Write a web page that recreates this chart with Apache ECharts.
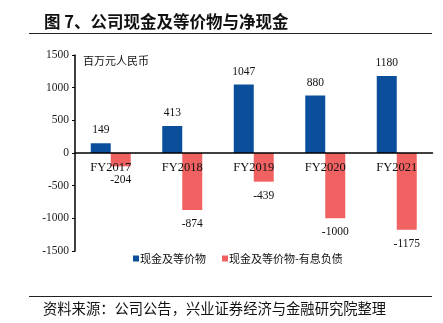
<!DOCTYPE html>
<html><head><meta charset="utf-8">
<script src="https://cdn.jsdelivr.net/npm/echarts@6/dist/echarts.min.js"></script>
<style>html,body{margin:0;padding:0;background:#fff}#c{width:443px;height:323px}</style>
</head><body><div id="c"></div>
<script>
var categories = ['FY2017','FY2018','FY2019','FY2020','FY2021'];
var cashValues = [149, 413, 1047, 880, 1180];
var netCashValues = [-204, -874, -439, -1000, -1175];
var seriesNames = ['现金及等价物', '现金及等价物-有息负债'];
var yTicks = [-1500, -1000, -500, 0, 500, 1000, 1500];
var titleText = '图 7、公司现金及等价物与净现金';
var unitText = '百万元人民币';
var sourceText = '资料来源：公司公告，兴业证券经济与金融研究院整理';

var serif = '"Liberation Serif","Times New Roman",serif';
var cjk = '"Noto Sans CJK SC",sans-serif';
var gridTop = 55, gridBottom = 72, chartH = 323;
var plotH = chartH - gridTop - gridBottom;
var zeroFromBottom = plotH * (0 - yTicks[0]) / (yTicks[yTicks.length-1] - yTicks[0]);
var chart = echarts.init(document.getElementById('c'), null, {renderer:'canvas'});
chart.setOption({
  animation: false,
  backgroundColor: '#fff',
  title: [
    {text: titleText, left: 39, top: 8, textStyle: {fontFamily: cjk, fontSize: 16.5, fontWeight: 'bold', color: '#111'}},
    {text: unitText, left: 78, top: 50, textStyle: {fontFamily: cjk, fontSize: 11, fontWeight: 'normal', color: '#111'}},
    {text: sourceText, left: 38, top: 296, textStyle: {fontFamily: cjk, fontSize: 14.3, fontWeight: 'normal', color: '#111'}}
  ],
  graphic: [
    {type: 'line', shape: {x1: 29, y1: 33.5, x2: 432, y2: 33.5}, style: {stroke: '#222', lineWidth: 1}},
    {type: 'line', shape: {x1: 29, y1: 296.5, x2: 432, y2: 296.5}, style: {stroke: '#222', lineWidth: 1}}
  ],
  legend: {
    data: seriesNames, left: 128, top: 248, itemWidth: 6, itemHeight: 6, itemGap: 16,
    icon: 'rect',
    textStyle: {fontFamily: cjk, fontSize: 11, color: '#111', padding: [0,0,0,-4]}
  },
  grid: {left: 75, right: 10.5, top: gridTop, bottom: gridBottom, containLabel: false},
  xAxis: {
    type: 'category', data: categories, z: 5,
    axisLine: {onZero: true, lineStyle: {color: '#000', width: 1.5}},
    axisTick: {show: false},
    axisLabel: {fontFamily: serif, fontSize: 12.5, color: '#111', margin: 8 - zeroFromBottom}
  },
  yAxis: {
    type: 'value', min: yTicks[0], max: yTicks[yTicks.length-1], interval: 500,
    axisLine: {show: true, lineStyle: {color: '#000', width: 1.5}},
    axisTick: {show: true, length: 3, lineStyle: {color: '#000'}},
    splitLine: {show: false},
    axisLabel: {fontFamily: serif, fontSize: 11.5, color: '#222', margin: 6, formatter: function(v){return String(v);}}
  },
  series: [
    {name: seriesNames[0], type: 'bar', data: cashValues, barWidth: 20, barGap: '0%',
     itemStyle: {color: '#0B4F9C'},
     label: {show: true, position: 'top', distance: 7, fontFamily: serif, fontSize: 11.5, color: '#111'}},
    {name: seriesNames[1], type: 'bar', data: netCashValues, barWidth: 20,
     itemStyle: {color: '#F06262'},
     label: {show: true, position: 'bottom', distance: 8, fontFamily: serif, fontSize: 11.5, color: '#111'}}
  ]
});
</script></body></html>
